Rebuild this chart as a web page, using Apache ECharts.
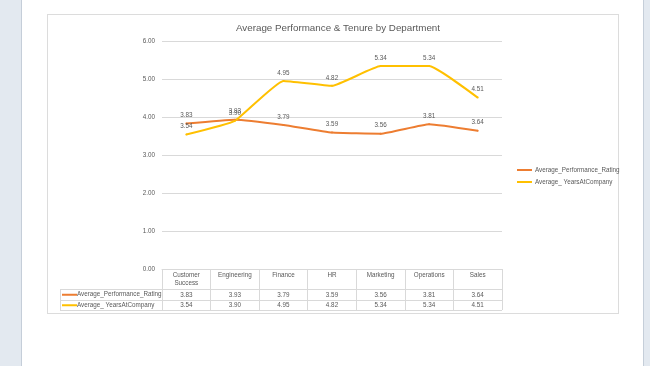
<!DOCTYPE html>
<html><head><meta charset="utf-8">
<script src="https://cdn.jsdelivr.net/npm/echarts@6/dist/echarts.min.js"></script>
<style>
html,body{margin:0;padding:0;width:650px;height:366px;overflow:hidden;background:#e3e9f0;}
#page{position:absolute;left:21px;top:0;width:621px;height:366px;background:#fff;border-left:1px solid #c5ced9;border-right:1px solid #c5ced9;}
#box{position:absolute;left:47px;top:14px;width:570px;height:298px;border:1px solid #dcdcdc;background:#fff;}
#chart{position:absolute;left:0;top:0;width:650px;height:366px;}
</style></head>
<body>
<div id="page"></div><div id="box"></div>
<div id="chart"></div>
<script>
const title = 'Average Performance & Tenure by Department';
const categories = ['Customer\nSuccess','Engineering','Finance','HR','Marketing','Operations','Sales'];
const seriesNames = ['Average_Performance_Rating','Average_ YearsAtCompany'];
const perfRating = [3.83,3.93,3.79,3.59,3.56,3.81,3.64];
const yearsAtCompany = [3.54,3.90,4.95,4.82,5.34,5.34,4.51];
const yTicks = [0,1,2,3,4,5,6];
const colors = ['#ED7D31','#FFC000'];

const FONT = '"Liberation Sans",sans-serif';
const TXT = '#595959';
const GRID = '#d9d9d9';
const SMALL = 6.3;
const fmt = v => Number(v).toFixed(2);

const chart = echarts.init(document.getElementById('chart'), null, {renderer:'canvas'});
const plotLeft = 162, plotRight = 148, rowH = 10.5;
const lineSeries = (i, data) => ({
  name: seriesNames[i], type: 'line', xAxisIndex: 0, yAxisIndex: 0, data: data,
  smooth: 0.12, symbol: 'circle', symbolSize: 2, showSymbol: true,
  lineStyle: {color: colors[i], width: 2}, itemStyle: {color: colors[i]},
  label: {show: true, position: 'top', distance: 4, formatter: p => fmt(p.value),
    fontSize: SMALL, color: TXT, fontFamily: FONT}
});
const option = {
  backgroundColor: 'transparent',
  animation: false,
  textStyle: {fontFamily: FONT},
  title: {text: title, left: 333, top: 18, textAlign: 'center',
    textStyle: {fontFamily: FONT, fontSize: 9.8, fontWeight: 'normal', color: TXT}},
  legend: {orient: 'vertical', left: 512, top: 162, itemGap: 6, itemWidth: 15, itemHeight: 2,
    icon: 'rect', itemStyle: {opacity: 1},
    data: seriesNames.map((n, i) => ({name: n, itemStyle: {color: colors[i], opacity: 1}})),
    textStyle: {fontFamily: FONT, fontSize: SMALL, color: TXT, padding: [0,0,0,-2]}},
  grid: [
    {left: plotLeft, right: plotRight, top: 41, height: 228, containLabel: false},
    {left: plotLeft, right: plotRight, top: 289.5, height: rowH*2, containLabel: false}
  ],
  xAxis: [
    {type: 'category', gridIndex: 0, data: categories, boundaryGap: true,
      axisLine: {show: true, lineStyle: {color: GRID, width: 1}},
      axisTick: {show: true, interval: 0, length: 41, lineStyle: {color: GRID}},
      axisLabel: {interval: 0, margin: 2, fontSize: SMALL, lineHeight: 8, color: TXT, fontFamily: FONT}},
    {type: 'category', gridIndex: 1, data: perfRating.map(fmt), boundaryGap: true,
      axisLine: {show: false}, axisTick: {show: false}, position: 'top',
      axisLabel: {interval: 0, margin: -8.5, fontSize: SMALL, color: TXT, fontFamily: FONT}},
    {type: 'category', gridIndex: 1, data: yearsAtCompany.map(fmt), boundaryGap: true,
      axisLine: {show: false}, axisTick: {show: false}, position: 'bottom',
      axisLabel: {interval: 0, margin: -8.5, fontSize: SMALL, color: TXT, fontFamily: FONT}}
  ],
  yAxis: [
    {type: 'value', gridIndex: 0, min: 0, max: 6, interval: 1,
      axisLine: {show: false}, axisTick: {show: false},
      splitLine: {show: true, lineStyle: {color: GRID, width: 1}},
      axisLabel: {formatter: fmt, fontSize: SMALL, color: TXT, margin: 7, fontFamily: FONT}},
    {type: 'category', gridIndex: 1, inverse: true, data: seriesNames, boundaryGap: true, position: 'left',
      axisLine: {show: false},
      axisTick: {show: true, interval: 0, length: 102, lineStyle: {color: GRID}},
      splitLine: {show: true, interval: 0, lineStyle: {color: GRID}},
      axisLabel: {interval: 0, align: 'left', margin: 100, fontSize: SMALL, color: TXT, fontFamily: FONT,
        formatter: (v, i) => '{k' + i + '|}{t|' + v + '}',
        rich: {
          k0: {width: 15, height: 2, backgroundColor: colors[0]},
          k1: {width: 15, height: 2, backgroundColor: colors[1]},
          t: {fontSize: SMALL, color: TXT, fontFamily: FONT}
        }}},
    {type: 'category', gridIndex: 1, data: seriesNames, boundaryGap: true, position: 'left', offset: 102,
      axisLine: {show: true, lineStyle: {color: GRID}}, axisTick: {show: false},
      axisLabel: {show: false}}
  ],
  series: [lineSeries(0, perfRating), lineSeries(1, yearsAtCompany)]
};
chart.setOption(option);
</script>
</body></html>
